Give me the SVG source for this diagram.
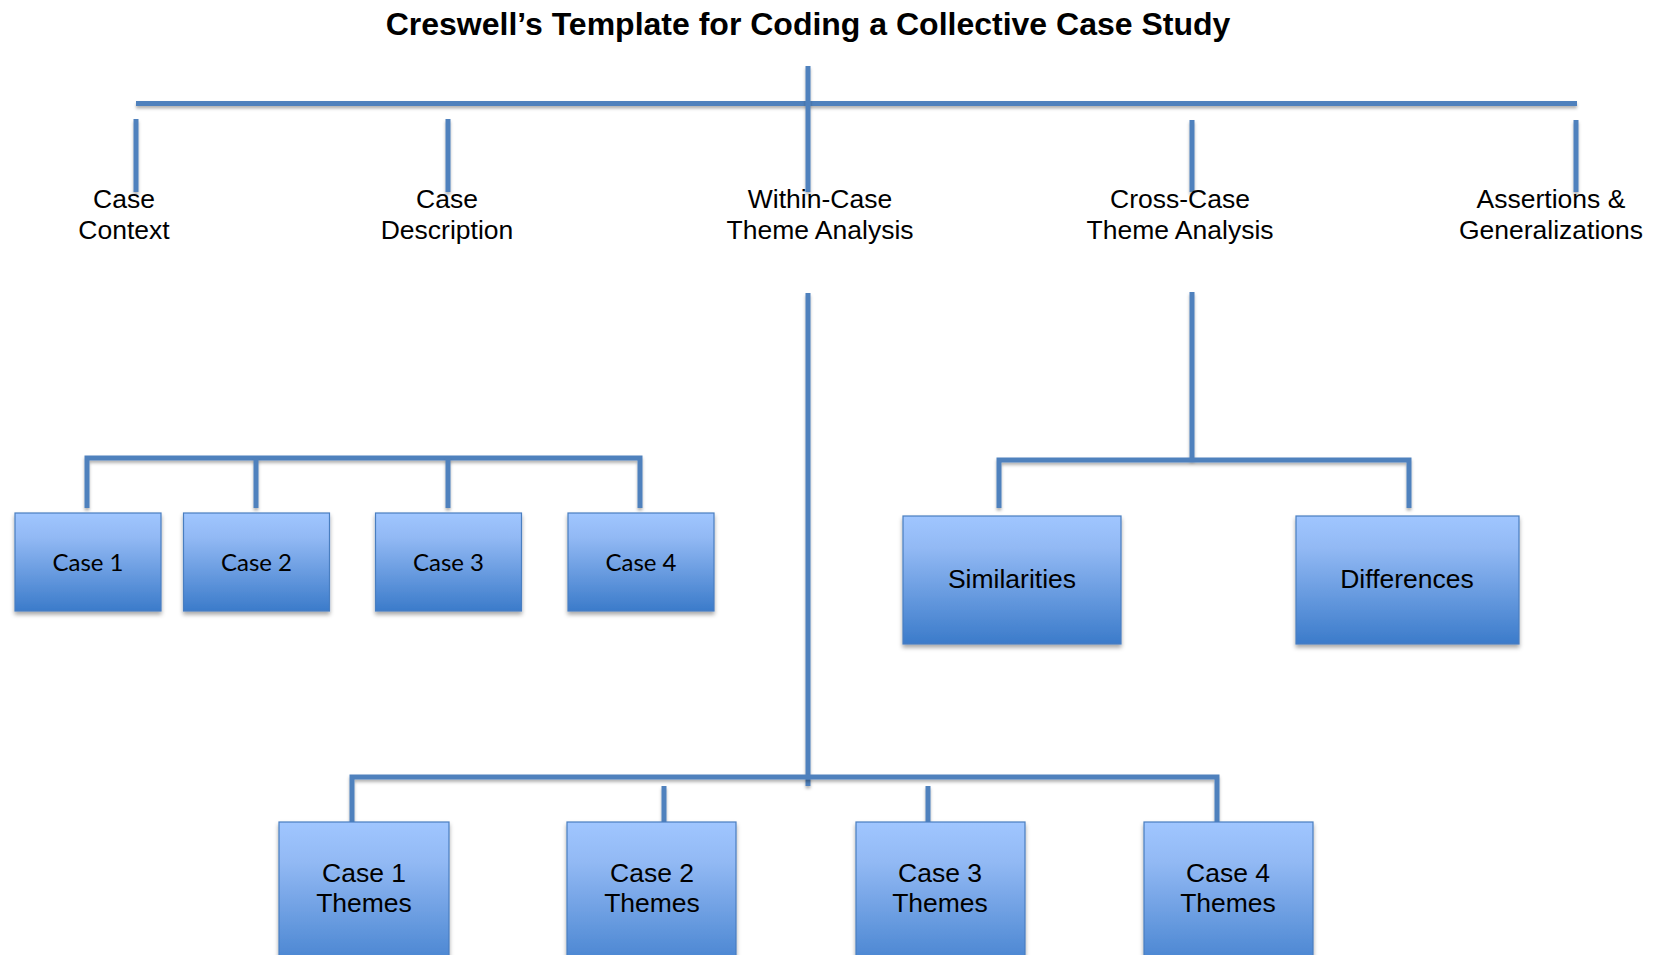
<svg xmlns="http://www.w3.org/2000/svg" width="1659" height="955" viewBox="0 0 1659 955">
<defs>
<linearGradient id="boxGrad" x1="0" y1="0" x2="0" y2="1">
<stop offset="0" stop-color="#A0C6FF"/>
<stop offset="0.25" stop-color="#92B9F4"/>
<stop offset="1" stop-color="#3B7BCA"/>
</linearGradient>
<filter id="bshadow" filterUnits="userSpaceOnUse" x="0" y="0" width="1659" height="955">
<feDropShadow dx="0" dy="3" stdDeviation="2" flood-color="#000" flood-opacity="0.35"/>
</filter>
<filter id="lshadow" filterUnits="userSpaceOnUse" x="0" y="0" width="1659" height="955">
<feDropShadow dx="0" dy="2.5" stdDeviation="1.5" flood-color="#000" flood-opacity="0.3"/>
</filter>
</defs>
<style>
.c{stroke:#4F81BD;stroke-width:5;fill:none;filter:url(#lshadow)}
.box{fill:url(#boxGrad);stroke:#4A7EC0;stroke-width:1.2;filter:url(#bshadow)}
.t{font-family:"Liberation Sans",Arial,sans-serif;font-size:26.5px;fill:#000;text-anchor:middle}
.cal{font-family:Lato,"Liberation Sans",sans-serif;font-size:24px;fill:#000;text-anchor:middle}
.title{font-family:"Liberation Sans",Arial,sans-serif;font-size:32px;font-weight:bold;fill:#000;text-anchor:middle}
</style>
<rect width="1659" height="955" fill="#fff"/>
<text class="title" x="808" y="35">Creswell’s Template for Coding a Collective Case Study</text>

<g id="connectors">
<path class="c" d="M136 103.5 H1577"/>
<path class="c" d="M808 66 V192"/>
<path class="c" d="M136 119 V192"/>
<path class="c" d="M448 119 V192"/>
<path class="c" d="M1192 120 V192"/>
<path class="c" d="M1576 120 V192"/>
<path class="c" d="M808 293 V786"/>
<path class="c" d="M1192 292 V460"/>
<path class="c" d="M87 508 V458 H640 V508"/>
<path class="c" d="M256 458 V508"/>
<path class="c" d="M448 458 V508"/>
<path class="c" d="M999 508 V460 H1409 V508"/>
<path class="c" d="M352 822 V777 H1217 V822"/>
<path class="c" d="M664 786 V822"/>
<path class="c" d="M928 786 V822"/>
</g>

<g id="case-context"><text class="t" x="124" y="208">Case</text><text class="t" x="124" y="239">Context</text></g>
<g id="case-description"><text class="t" x="447" y="208">Case</text><text class="t" x="447" y="239">Description</text></g>
<g id="within-case"><text class="t" x="820" y="208">Within-Case</text><text class="t" x="820" y="239">Theme Analysis</text></g>
<g id="cross-case"><text class="t" x="1180" y="208">Cross-Case</text><text class="t" x="1180" y="239">Theme Analysis</text></g>
<g id="assertions"><text class="t" x="1551" y="208">Assertions &amp;</text><text class="t" x="1551" y="239">Generalizations</text></g>

<g id="case1"><rect class="box" x="15" y="513" width="146" height="98"/><text class="cal" x="88" y="571">Case 1</text></g>
<g id="case2"><rect class="box" x="183.5" y="513" width="146" height="98"/><text class="cal" x="256.5" y="571">Case 2</text></g>
<g id="case3"><rect class="box" x="375.5" y="513" width="146" height="98"/><text class="cal" x="448.5" y="571">Case 3</text></g>
<g id="case4"><rect class="box" x="568" y="513" width="146" height="98"/><text class="cal" x="641" y="571">Case 4</text></g>

<g id="similarities"><rect class="box" x="903" y="516" width="218" height="128"/><text class="t" x="1012" y="588">Similarities</text></g>
<g id="differences"><rect class="box" x="1296" y="516" width="223" height="128"/><text class="t" x="1407" y="588">Differences</text></g>

<g id="case1-themes"><rect class="box" x="279" y="822" width="170" height="160"/><text class="t" x="364" y="882">Case 1</text><text class="t" x="364" y="912">Themes</text></g>
<g id="case2-themes"><rect class="box" x="567" y="822" width="169" height="160"/><text class="t" x="652" y="882">Case 2</text><text class="t" x="652" y="912">Themes</text></g>
<g id="case3-themes"><rect class="box" x="856" y="822" width="169" height="160"/><text class="t" x="940" y="882">Case 3</text><text class="t" x="940" y="912">Themes</text></g>
<g id="case4-themes"><rect class="box" x="1144" y="822" width="169" height="160"/><text class="t" x="1228" y="882">Case 4</text><text class="t" x="1228" y="912">Themes</text></g>
</svg>
